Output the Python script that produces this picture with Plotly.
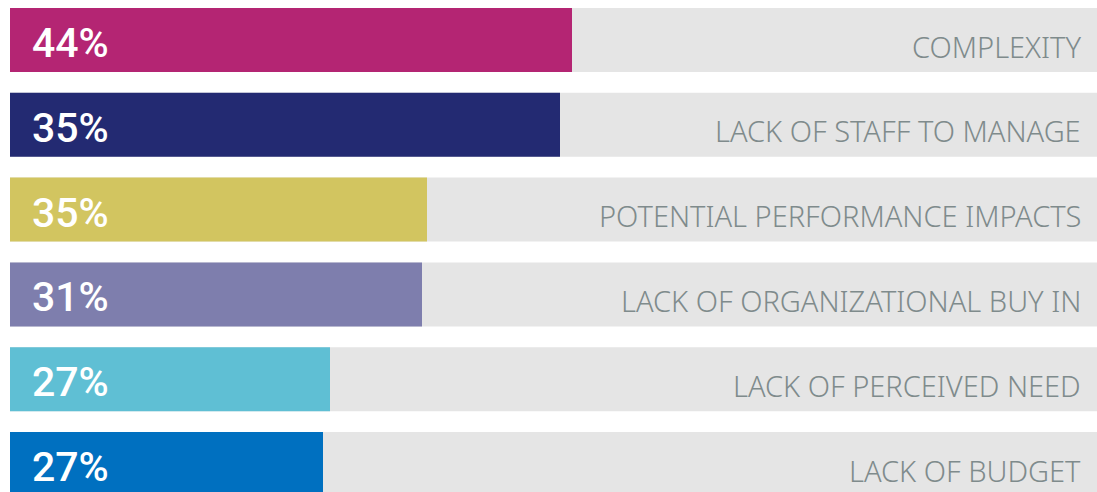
import plotly.graph_objects as go

categories = ["COMPLEXITY", "LACK OF STAFF TO MANAGE", "POTENTIAL PERFORMANCE IMPACTS",
              "LACK OF ORGANIZATIONAL BUY IN", "LACK OF PERCEIVED NEED", "LACK OF BUDGET"]
pct_labels = ["44%", "35%", "35%", "31%", "27%", "27%"]
# bar lengths as drawn in the picture (axis units, full track = 1100)
bar_lengths = [562, 550, 417, 412, 320, 313]
track_length = [1100] * 6
colors = ["#B42573", "#232A72", "#D2C560", "#7E7EAD", "#5FBFD4", "#0070C0"]

fig = go.Figure()
fig.add_trace(go.Bar(y=categories, x=track_length, orientation="h",
                     marker=dict(color="#E5E5E5", line=dict(width=0)),
                     width=0.755, hoverinfo="skip", showlegend=False))
fig.add_trace(go.Bar(y=categories, x=bar_lengths, orientation="h",
                     marker=dict(color=colors, line=dict(width=0)),
                     width=0.755, hoverinfo="skip", showlegend=False))

for cat, p in zip(categories, pct_labels):
    fig.add_annotation(x=20, y=cat, xref="x", yref="y", text=p, showarrow=False,
                       xanchor="left", yanchor="middle", yshift=-3,
                       font=dict(family="Roboto", size=41, color="white", weight=500))
    fig.add_annotation(x=1073, y=cat, xref="x", yref="y", text=cat, showarrow=False,
                       xanchor="right", yanchor="middle", yshift=-6,
                       font=dict(family="Noto Sans", size=29, color="#7F8B8C", weight=300))

fig.update_layout(
    width=1097, height=492, margin=dict(l=0, r=0, t=0, b=0),
    paper_bgcolor="white", plot_bgcolor="white", barmode="overlay",
    xaxis=dict(range=[-10, 1087], visible=False),
    yaxis=dict(type="category", categoryorder="array", categoryarray=categories,
               range=[5.330, -0.4717], visible=False),
)
fig.write_html("out.html", config={"displayModeBar": False},
               post_script="document.body.style.margin='0';document.body.style.overflow='hidden';")
